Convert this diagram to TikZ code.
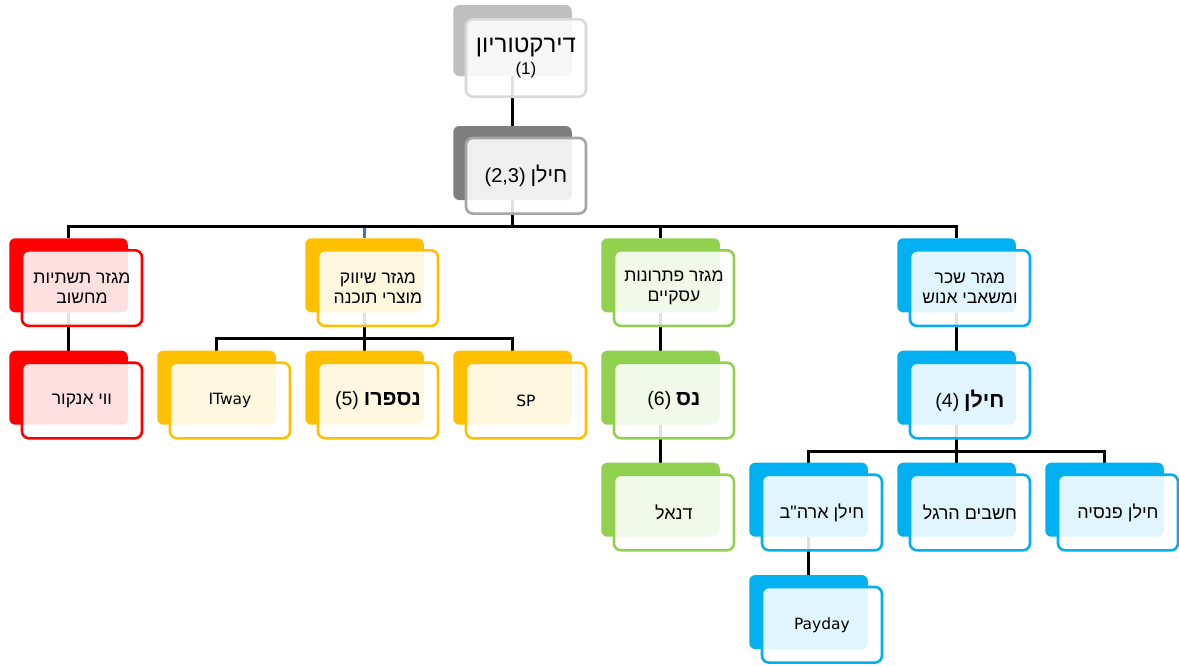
\documentclass[tikz,border=0pt]{standalone}
\usepackage{fontspec}
\usetikzlibrary{backgrounds}
\setmainfont{Liberation Sans}
\newfontfamily\hebfont[Script=Hebrew]{Liberation Sans}
\newfontfamily\latfont{DejaVu Sans}
\TeXXeTstate=1
\newcommand{\hebtxt}[1]{\beginR#1\endR}
\definecolor{redc}{HTML}{FF0000}
\definecolor{yelc}{HTML}{FFC000}
\definecolor{grnc}{HTML}{92D050}
\definecolor{bluc}{HTML}{00B0F0}
\definecolor{gryA}{HTML}{BFBFBF}
\definecolor{gryAl}{HTML}{D9D9D9}
\definecolor{gryB}{HTML}{7F7F7F}
\definecolor{gryBl}{HTML}{A6A6A6}
\definecolor{linkblue}{HTML}{4472C4}

\begin{document}
\begin{tikzpicture}[x=1pt,y=-1pt]
  \tikzset{back/.style = {fill=#1,rounded corners=6pt,minimum width=118.5pt,minimum height=74pt,inner sep=0pt}}
  \tikzset{front/.style = {draw=#1,line width=2.6pt,fill=white,fill opacity=0.88,text opacity=1,rounded corners=7pt,
      minimum width=120pt,minimum height=75.6pt,inner sep=2pt,align=center,font=\hebfont\fontsize{17.5}{20}\selectfont}}
  \tikzset{conn/.style = {line width=3pt}}
  \useasboundingbox (0,0) rectangle (1179,665);

  % top
  \node[back=gryA,minimum height=71pt] (dir) at (512.5,40.5) {};
  \node[front=gryAl,minimum height=77.4pt] (dir-t) at (525.95,58) {{\fontsize{24}{25}\selectfont\hebtxt{דירקטוריון}}\\[2pt]{\fontsize{17}{18}\selectfont (1)}};
  \node[back=gryB] (ch23) at (512.5,163) {};
  \node[front=gryBl] (ch23-t) at (525.95,175.8) {\hebtxt{{\fontsize{21.5}{24}\selectfont חילן} \beginL{\fontsize{20}{23}\selectfont(2,3)}\endL}};

  % sectors
  \node[back=redc] (red) at (68.5,275.3) {};
  \node[front=redc] (red-t) at (81.95,288.1) {\hebtxt{מגזר תשתיות}\\\hebtxt{מחשוב}};
  \node[back=yelc] (yel) at (364.5,275.3) {};
  \node[front=yelc] (yel-t) at (377.95,288.1) {\hebtxt{מגזר שיווק}\\\hebtxt{מוצרי תוכנה}};
  \node[back=grnc] (grn) at (660.5,275.3) {};
  \node[front=grnc] (grn-t) at (673.95,288.1) {\hebtxt{מגזר פתרונות}\\\hebtxt{עסקיים}};
  \node[back=bluc] (blu) at (956.5,275.3) {};
  \node[front=bluc] (blu-t) at (969.95,288.1) {\hebtxt{מגזר שכר}\\\hebtxt{ומשאבי אנוש}};

  % companies
  \node[back=redc] (vw) at (68.5,387.7) {};
  \node[front=redc] (vw-t) at (81.95,400.5) {\hebtxt{ווי אנקור}};
  \node[back=yelc] (itw) at (216.5,387.7) {};
  \node[front=yelc,font=\latfont\fontsize{15.5}{18}\selectfont] (itw-t) at (229.95,400.5) {ITway};
  \node[back=yelc] (nsp) at (364.5,387.7) {};
  \node[front=yelc] (nsp-t) at (377.95,400.5) {\hebtxt{{\fontsize{21.5}{24}\selectfont\bfseries נספרו} \beginL{\fontsize{19.5}{22}\selectfont(5)}\endL}};
  \node[back=yelc] (sp) at (512.5,387.7) {};
  \node[front=yelc,font=\latfont\fontsize{15.5}{18}\selectfont] (sp-t) at (525.95,400.5) {SP};
  \node[back=grnc] (ns) at (660.5,387.7) {};
  \node[front=grnc] (ns-t) at (673.95,400.5) {\hebtxt{{\fontsize{21.5}{24}\selectfont\bfseries נס} \beginL{\fontsize{19.5}{22}\selectfont(6)}\endL}};
  \node[back=bluc] (chl4) at (956.5,387.7) {};
  \node[front=bluc] (chl4-t) at (969.95,400.5) {\hebtxt{{\fontsize{21.5}{24}\selectfont\bfseries חילן} \beginL{\fontsize{19.5}{22}\selectfont(4)}\endL}};

  \node[back=grnc] (dnl) at (660.5,499.7) {};
  \node[front=grnc,font=\hebfont\fontsize{18}{21}\selectfont] (dnl-t) at (673.95,512.5) {\hebtxt{דנאל}};
  \node[back=bluc] (us) at (808.5,499.7) {};
  \node[front=bluc,font=\hebfont\fontsize{18}{21}\selectfont] (us-t) at (821.95,512.5) {\hebtxt{חילן ארה"ב}};
  \node[back=bluc] (hr) at (956.5,499.7) {};
  \node[front=bluc,font=\hebfont\fontsize{18}{21}\selectfont] (hr-t) at (969.95,512.5) {\hebtxt{חשבים הרגל}};
  \node[back=bluc] (pen) at (1104.5,499.7) {};
  \node[front=bluc,font=\hebfont\fontsize{18}{21}\selectfont] (pen-t) at (1117.95,512.5) {\hebtxt{חילן פנסיה}};
  \node[back=bluc] (pay) at (808.5,612) {};
  \node[front=bluc,font=\latfont\fontsize{15.5}{18}\selectfont] (pay-t) at (821.95,624.8) {Payday};

  \begin{scope}[on background layer]
    \draw[conn] (dir) -- (ch23);
    \path (ch23.south) ++(0,26) coordinate (bus1);
    \foreach \to in {red,yel,grn,blu}
      \draw[conn] (ch23.south) -- (bus1) -| (\to.north);
    \draw[conn,draw=linkblue] (yel.north) -- ++(0,-10.5);
    \draw[conn] (red) -- (vw);
    \path (yel.south) ++(0,25.7) coordinate (bus2);
    \foreach \to in {itw,nsp,sp}
      \draw[conn] (yel.south) -- (bus2) -| (\to.north);
    \draw[conn] (grn) -- (ns);
    \draw[conn] (ns) -- (dnl);
    \draw[conn] (blu) -- (chl4);
    \path (chl4.south) ++(0,26.3) coordinate (bus3);
    \foreach \to in {us,hr,pen}
      \draw[conn] (chl4.south) -- (bus3) -| (\to.north);
    \draw[conn] (us) -- (pay);
  \end{scope}
\end{tikzpicture}
\end{document}
